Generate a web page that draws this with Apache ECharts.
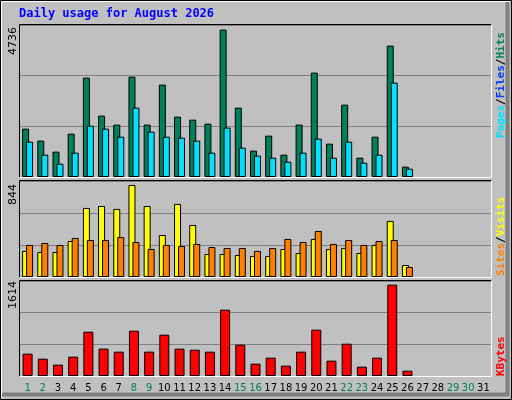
<!DOCTYPE html>
<html><head><meta charset="utf-8">
<script src="https://cdn.jsdelivr.net/npm/echarts@6/dist/echarts.min.js"></script>
<style>html,body{margin:0;padding:0;background:#c0c0c0}#c{width:512px;height:400px}</style>
</head><body><div id="c"></div>
<script>
const days = Array.from({length:31},(_,i)=>String(i+1));
const weekendDays = [1,2,8,9,15,16,22,23,29,30];
const hits  = [1554,1168,814,1393,3193,1972,1682,3225,1682,2968,1939,1843,1714,4736,2229,846,1329,718,1682,3354,1071,2325,621,1296,4222,332];
const files = [1136,718,429,782,1650,1554,1296,2229,1457,1296,1264,1168,782,1586,943,686,621,493,782,1232,621,1136,461,718,3032,268];
const visits= [239,229,229,330,633,651,624,844,651,385,670,477,211,211,202,193,193,257,220,349,257,266,220,294,514,110];
const sites = [294,312,294,358,339,339,367,321,257,294,284,303,275,266,266,239,266,349,321,422,303,339,294,330,339,92];
const kbytes= [395,306,200,342,783,483,430,801,430,730,483,465,430,1172,554,218,324,183,430,819,271,571,165,324,1614,94];
const maxLabels = ['4736','844','1614'];

const chart = echarts.init(document.getElementById('c'));
const L=20, R=21;
const grids=[{left:L,right:R,top:25,height:152},{left:L,right:R,top:181,height:96},{left:L,right:R,top:281,height:95}];
const ymax=[4884,880,1679];
const bs={borderColor:'#000',borderWidth:1};
const xAxes=grids.map((g,i)=>({type:'category',gridIndex:i,data:days,
  axisLine:{show:false},axisTick:{show:false},
  axisLabel:{show:i===2,margin:7,fontFamily:'DejaVu Sans',fontSize:10,interval:0,
    formatter:v=>weekendDays.includes(+v)?'{g|'+v+'}':'{k|'+v+'}',
    rich:{g:{color:'#00805c',fontFamily:'DejaVu Sans',fontSize:10},k:{color:'#000',fontFamily:'DejaVu Sans',fontSize:10}}}}));
const yAxes=grids.map((g,i)=>({type:'value',gridIndex:i,min:0,max:ymax[i],interval:ymax[i]/3,
  axisLine:{show:false},axisTick:{show:false},axisLabel:{show:false},
  splitLine:{lineStyle:{color:'#808080',width:1}}}));
function bar(data,color,xi,gap){return {type:'bar',data,xAxisIndex:xi,yAxisIndex:xi,barWidth:7,barGap:gap,
  itemStyle:Object.assign({color},bs),animation:false};}
const series=[bar(hits,'#00805c',0,'-43%'),bar(files,'#00e0ff',0,'-43%'),
  bar(visits,'#ffff00',1,'-43%'),bar(sites,'#ff8000',1,'-43%'),
  {type:'bar',data:kbytes,xAxisIndex:2,yAxisIndex:2,barWidth:10,itemStyle:Object.assign({color:'#ff0000'},bs),animation:false}];
const graphic=[
  {type:'rect',shape:{x:0.5,y:0.5,width:511,height:399},style:{fill:'none',stroke:'#000'},z:-1},
  {type:'polyline',shape:{points:[[1.5,398],[1.5,1.5],[510,1.5]]},style:{fill:'none',stroke:'#fff',lineWidth:1},z:-1},
  {type:'polyline',shape:{points:[[2,394.5],[507.5,394.5],[507.5,2]]},style:{fill:'none',stroke:'#808080',lineWidth:4},z:-1},
  {type:'text',left:19,top:8,style:{text:'Daily usage for August 2026',fill:'#0000ff',font:'bold 12px "DejaVu Sans Mono"'}}
];
grids.forEach((g,i)=>{
  graphic.push({type:'polyline',shape:{points:[[L-0.5,g.top+g.height+0.5],[L-0.5,g.top-0.5],[512-R+0.5,g.top-0.5]]},style:{fill:'none',stroke:'#000'},z:10});
  graphic.push({type:'polyline',shape:{points:[[L-0.5,g.top+g.height+0.5],[512-R+0.5,g.top+g.height+0.5],[512-R+0.5,g.top-0.5]]},style:{fill:'none',stroke:'#fff'},z:10});
  graphic.push({type:'text',x:8,y:g.top+(i===0?30:i===1?24:28),rotation:Math.PI/2,
    style:{text:maxLabels[i],fill:'#000',font:'11px "DejaVu Sans"'}});
});
function rt(x,y,parts){
  const rich={s:{fill:'#000',font:'bold 11px "DejaVu Sans Mono"'}};
  parts.forEach((p,k)=>{rich['p'+k]={fill:p[1],font:'bold 11px "DejaVu Sans Mono"'};});
  return {type:'text',x,y,rotation:Math.PI/2,style:{rich,text:parts.map((p,k)=>'{p'+k+'|'+p[0]+'}').join('{s|/}')}};
}
graphic.push(rt(496,138,[['Pages','#00e0ff'],['Files','#0040ff'],['Hits','#00805c']]));
graphic.push(rt(496,276,[['Sites','#ff8000'],['Visits','#ffff00']]));
graphic.push(rt(496,376,[['KBytes','#ff0000']]));
chart.setOption({backgroundColor:'#c0c0c0',animation:false,grid:grids,xAxis:xAxes,yAxis:yAxes,series,graphic});
</script></body></html>
